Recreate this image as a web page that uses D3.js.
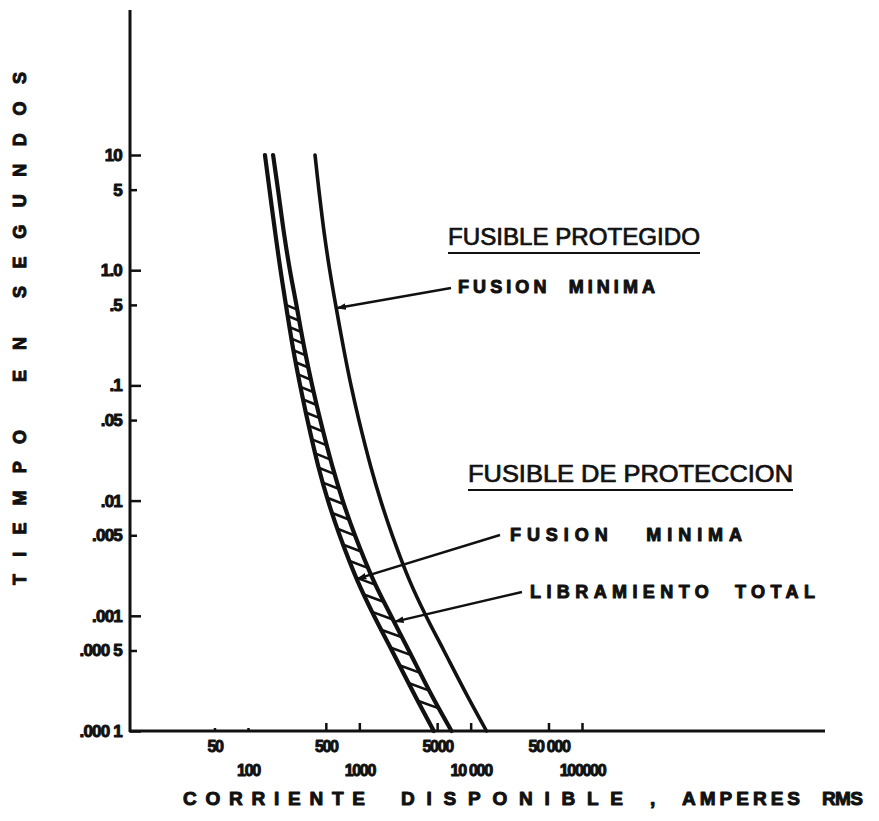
<!DOCTYPE html>
<html>
<head>
<meta charset="utf-8">
<script src="https://cdn.jsdelivr.net/npm/d3@7"></script>
<style>
  html, body { margin: 0; padding: 0; background: #ffffff; }
  svg { display: block; }
</style>
</head>
<body>
<svg id="chart" width="879" height="821"></svg>
<script>
// Time-current characteristics: protected fuse vs. protecting fuse (log-log).

// Time axis (seconds)
const timeTicks  = [10, 5, 1, 0.5, 0.1, 0.05, 0.01, 0.005, 0.001, 0.0005, 0.0001];
const timeLabels = ["10", "5", "1.0", ".5", ".1", ".05", ".01", ".005", ".001", ".000 5", ".000 1"];
const timeMinor  = [5, 0.5, 0.05, 0.005, 0.0005];

// Current axis (amperes RMS)
const currentTicks  = [50, 100, 500, 1000, 5000, 10000, 50000, 100000];
const currentLabels = ["50", "100", "500", "1000", "5000", "10 000", "50 000", "100000"];

// Curve sample times (seconds)
const timeValues = [10, 5, 2, 1, 0.5, 0.2, 0.1, 0.05, 0.02, 0.01, 0.005, 0.002, 0.001, 0.0005, 0.0002, 0.0001];

// Protecting fuse: minimum melting current (A)
const protectionMinMelt = [142, 156, 177, 196, 219, 256, 294, 342, 427, 523, 665, 965, 1354, 1961, 3183, 4666];
// Protecting fuse: total clearing current (A)
const protectionTotalClear = [168, 186, 212, 238, 272, 324, 377, 446, 571, 709, 913, 1349, 1925, 2782, 4514, 6730];
// Protected fuse: minimum melting current (A)
const protectedMinMelt = [400, 433, 487, 542, 613, 729, 842, 991, 1262, 1556, 1977, 2840, 3962, 5738, 9387, 13880];

// Times where the callouts touch their curves
const calloutTimes = { protectedMelt: 0.47, protectionMelt: 0.0021, protectionClear: 0.00089 };

const svg = d3.select("#chart");
const ink = "#111";

const frame = { left: 130, top: 10, right: 825, bottom: 731 };

const x = d3.scaleLog().domain([100, 100000]).range([248, 582]);
const y = d3.scaleLog().domain([0.0001, 10]).range([frame.bottom, 155]);

// log-log interpolation of a curve at time t
function currentAt(series, t) {
  const lt = Math.log10(t);
  for (let i = 0; i < timeValues.length - 1; i++) {
    const a = Math.log10(timeValues[i]), b = Math.log10(timeValues[i + 1]);
    if (lt <= a && lt >= b) {
      const f = (lt - a) / (b - a);
      const la = Math.log10(series[i]), lb = Math.log10(series[i + 1]);
      return Math.pow(10, la + f * (lb - la));
    }
  }
  return lt > 0 ? series[0] : series[series.length - 1];
}

const heavy = sel => sel
  .attr("fill", ink)
  .style("stroke", ink)
  .style("stroke-width", "1px")
  .style("stroke-linejoin", "round");

// ---- axes ----
const yAxis = d3.axisLeft(y)
  .tickValues(timeTicks)
  .tickFormat((d, i) => timeLabels[i])
  .tickSizeInner(-11)
  .tickSizeOuter(0)
  .tickPadding(8);

const gy = svg.append("g").attr("transform", `translate(${frame.left},0)`).call(yAxis);
gy.select(".domain").remove();
gy.selectAll(".tick line")
  .attr("stroke", ink).attr("stroke-width", 2.5)
  .attr("x2", d => timeMinor.includes(d) ? 7 : 11);
gy.selectAll(".tick text")
  .call(heavy)
  .style("font-family", "'Liberation Sans', Arial, sans-serif")
  .style("font-weight", "700")
  .style("font-size", "17px")
  .style("letter-spacing", "-0.8px");

const xAxis = d3.axisBottom(x)
  .tickValues(currentTicks)
  .tickFormat((d, i) => currentLabels[i])
  .tickSizeInner(-8)
  .tickSizeOuter(0)
  .tickPadding(10);

const gx = svg.append("g").attr("transform", `translate(0,${frame.bottom})`).call(xAxis);
gx.select(".domain").remove();
gx.selectAll(".tick line")
  .attr("stroke", ink).attr("stroke-width", 2.5)
  .attr("y2", d => d < 500 ? -3 : -8);
gx.selectAll(".tick text")
  .call(heavy)
  .attr("transform", (d, i) => i % 2 === 1 ? "translate(0,24)" : null)
  .style("font-family", "'Liberation Sans', Arial, sans-serif")
  .style("font-weight", "700")
  .style("font-size", "16px")
  .style("letter-spacing", "-1.3px");

// axis lines
svg.append("line")
  .attr("x1", frame.left).attr("x2", frame.left)
  .attr("y1", frame.top).attr("y2", frame.bottom + 1)
  .attr("stroke", ink).attr("stroke-width", 3);
svg.append("line")
  .attr("x1", frame.left - 1).attr("x2", frame.right)
  .attr("y1", frame.bottom).attr("y2", frame.bottom)
  .attr("stroke", ink).attr("stroke-width", 3);

// ---- curves ----
const line = d3.line()
  .x(d => x(d[0]))
  .y(d => y(d[1]))
  .curve(d3.curveCatmullRom.alpha(0.5));

function pairs(series) { return series.map((v, i) => [v, timeValues[i]]); }

// hatching between the two bands of the protecting fuse
const hatch = [];
{
  let py = y(0.5);
  const yEnd = y(0.00013);
  while (py < yEnd) {
    const t = y.invert(py);
    const xl = x(currentAt(protectionMinMelt, t));
    const w = x(currentAt(protectionTotalClear, t)) - xl;
    const d = w * 0.45;
    const xr = x(currentAt(protectionTotalClear, y.invert(py + d)));
    hatch.push([xl, py, xr, py + d]);
    py += Math.max(w * 1.05, 11);
  }
}
svg.append("g").selectAll("line").data(hatch).join("line")
  .attr("x1", d => d[0]).attr("y1", d => d[1])
  .attr("x2", d => d[2]).attr("y2", d => d[3])
  .attr("stroke", ink).attr("stroke-width", 2.6);

const curves = [
  { data: pairs(protectionMinMelt), w: 4.2 },
  { data: pairs(protectionTotalClear), w: 4.2 },
  { data: pairs(protectedMinMelt), w: 3.6 }
];
svg.append("g").selectAll("path").data(curves).join("path")
  .attr("d", d => line(d.data))
  .attr("fill", "none")
  .attr("stroke", ink)
  .attr("stroke-width", d => d.w)
  .attr("stroke-linecap", "round");

// ---- callouts ----
svg.append("defs").append("marker")
  .attr("id", "arrow")
  .attr("viewBox", "0 0 10 10")
  .attr("refX", 9).attr("refY", 5)
  .attr("markerWidth", 4).attr("markerHeight", 4)
  .attr("orient", "auto")
  .append("path").attr("d", "M0,1.5 L10,5 L0,8.5 Z").attr("fill", ink);

const callouts = [
  { series: protectedMinMelt, t: calloutTimes.protectedMelt, from: [451, 288] },
  { series: protectionMinMelt, t: calloutTimes.protectionMelt, from: [500, 535] },
  { series: protectionTotalClear, t: calloutTimes.protectionClear, from: [522, 592] }
];
svg.append("g").selectAll("line").data(callouts).join("line")
  .attr("x1", d => d.from[0]).attr("y1", d => d.from[1])
  .attr("x2", d => x(currentAt(d.series, d.t)) + 1)
  .attr("y2", d => y(d.t))
  .attr("stroke", ink).attr("stroke-width", 2.4)
  .attr("marker-end", "url(#arrow)");

// ---- labels ----
const headingFont = "'Liberation Sans Narrow', 'Liberation Sans', Arial, sans-serif";
const labelFont = "'Liberation Sans', Arial, sans-serif";

const headings = [
  { text: "FUSIBLE PROTEGIDO", x: 448, y: 245, len: 252 },
  { text: "FUSIBLE DE PROTECCION", x: 468, y: 482, len: 325 }
];
headings.forEach(h => {
  svg.append("text")
    .attr("x", h.x).attr("y", h.y)
    .attr("textLength", h.len).attr("lengthAdjust", "spacingAndGlyphs")
    .attr("fill", ink)
    .style("font-family", headingFont)
    .style("font-size", "23px")
    .style("font-weight", "400")
    .style("stroke", ink).style("stroke-width", "0.7px")
    .text(h.text);
  svg.append("line")
    .attr("x1", h.x).attr("x2", h.x + h.len)
    .attr("y1", h.y + 8).attr("y2", h.y + 8)
    .attr("stroke", ink).attr("stroke-width", 2.2);
});

const notes = [
  { text: "FUSION  MINIMA", x: 458, y: 293, len: 197 },
  { text: "FUSION   MINIMA", x: 510, y: 541, len: 232 },
  { text: "LIBRAMIENTO  TOTAL", x: 530, y: 598, len: 285 }
];
svg.append("g").selectAll("text").data(notes).join("text")
  .call(heavy)
  .attr("x", d => d.x).attr("y", d => d.y)
  .attr("textLength", d => d.len).attr("lengthAdjust", "spacing")
  .style("font-family", labelFont)
  .style("font-size", "18px")
  .style("font-weight", "700")
  .style("white-space", "pre")
  .text(d => d.text);

// axis titles, spaced word by word
const yTitle = [
  { text: "TIEMPO", start: 585, len: 155 },
  { text: "EN", start: 382, len: 45 },
  { text: "SEGUNDOS", start: 298, len: 226 }
];
svg.append("g").selectAll("text").data(yTitle).join("text")
  .call(heavy)
  .attr("transform", d => `translate(26,${d.start}) rotate(-90)`)
  .attr("textLength", d => d.len).attr("lengthAdjust", "spacing")
  .style("font-family", labelFont)
  .style("font-size", "18px")
  .style("font-weight", "700")
  .text(d => d.text);

const xTitle = [
  { text: "CORRIENTE", x: 183, len: 182 },
  { text: "DISPONIBLE", x: 401, len: 222 },
  { text: ",", x: 650, len: 5 },
  { text: "AMPERES", x: 682, len: 118 },
  { text: "RMS", x: 822, len: 41 }
];
svg.append("g").selectAll("text").data(xTitle).join("text")
  .call(heavy)
  .attr("x", d => d.x).attr("y", 805)
  .attr("textLength", d => d.len).attr("lengthAdjust", "spacing")
  .style("font-family", labelFont)
  .style("font-size", "19px")
  .style("font-weight", "700")
  .text(d => d.text);
</script>
</body>
</html>
